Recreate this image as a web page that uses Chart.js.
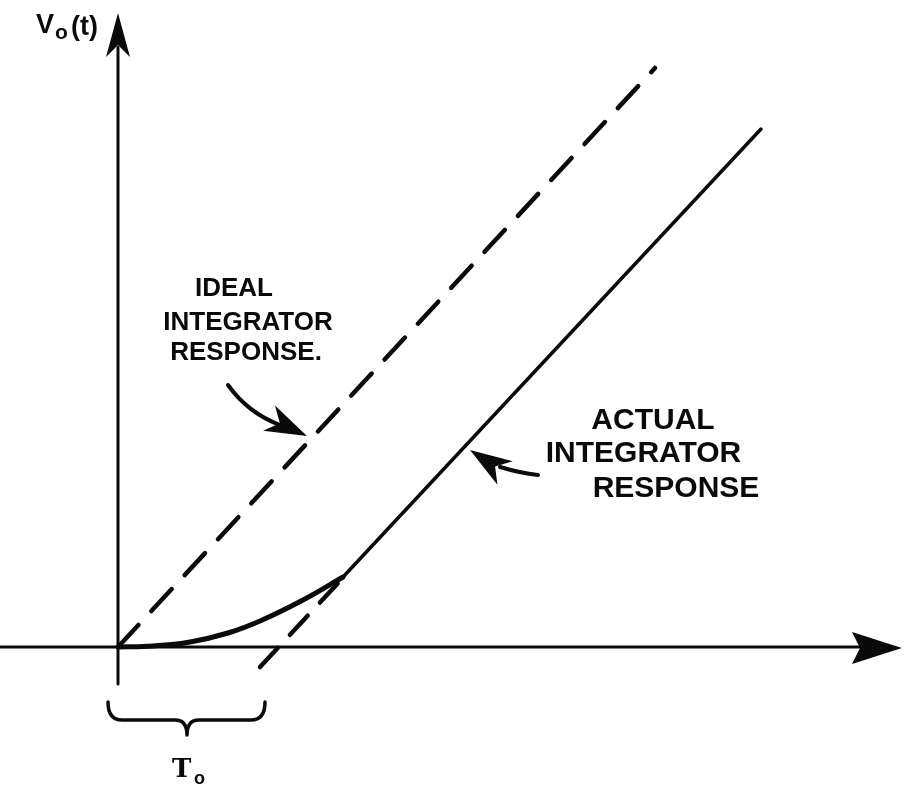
<!DOCTYPE html>
<html>
<head>
<meta charset="utf-8">
<script src="https://cdn.jsdelivr.net/npm/chart.js@4.4.1/dist/chart.umd.min.js"></script>
<style>
  body { margin: 0; background: #fff; }
  #wrap { width: 915px; height: 789px; }
</style>
</head>
<body>
<div id="wrap"><canvas id="myChart" width="915" height="789"></canvas></div>
<script>
// time axis runs roughly -1.2 .. 8, output axis -1.4 .. 6.5
var idealX = [0, 5.37];
var idealY = [0, 5.79];

// slow start of the real integrator
var curveX = [0, 0.35, 0.72, 1.1, 1.42, 1.85, 2.25];
var curveY = [0, 0.01, 0.05, 0.14, 0.26, 0.47, 0.70];

// steady-state ramp
var actualX = [2.25, 6.43];
var actualY = [0.70, 5.18];

// ramp extended back to the time axis (offset To)
var extendX = [1.42, 2.22];
var extendY = [-0.20, 0.66];

var timeAxisX = [-1.18, 7.6];
var outAxisY = [-0.37, 6.0];

var ink = '#0a0a0a';

function pts(xs, ys) {
  return xs.map(function(x, i) { return { x: x, y: ys[i] }; });
}

function barb(ctx, tx, ty, dx, dy, len, hw, notch) {
  var m = Math.sqrt(dx * dx + dy * dy);
  dx = dx / m; dy = dy / m;
  var px = -dy, py = dx;
  ctx.beginPath();
  ctx.moveTo(tx, ty);
  ctx.lineTo(tx - len * dx + hw * px, ty - len * dy + hw * py);
  ctx.lineTo(tx - notch * dx, ty - notch * dy);
  ctx.lineTo(tx - len * dx - hw * px, ty - len * dy - hw * py);
  ctx.closePath();
  ctx.fill();
}

var sketchPlugin = {
  id: 'sketch',
  afterDatasetsDraw: function(chart) {
    var ctx = chart.ctx;
    var sx = chart.scales.x, sy = chart.scales.y;
    var X = function(v) { return sx.getPixelForValue(v); };
    var Y = function(v) { return sy.getPixelForValue(v); };
    ctx.save();
    ctx.fillStyle = ink;
    ctx.strokeStyle = ink;
    ctx.lineCap = 'round';
    ctx.lineJoin = 'round';

    // axis arrow heads
    barb(ctx, X(0), Y(6.34), 0, -1, 44, 12, 32);
    barb(ctx, X(7.84), Y(-0.01), 1, 0, 50, 16, 42);

    // pointer to the ideal line
    ctx.lineWidth = 4;
    ctx.beginPath();
    ctx.moveTo(X(1.10), Y(2.62));
    ctx.quadraticCurveTo(X(1.30), Y(2.34), X(1.62), Y(2.22));
    ctx.stroke();
    barb(ctx, X(1.89), Y(2.11), 36, 17, 42, 14, 30);

    // pointer to the actual line
    ctx.beginPath();
    ctx.moveTo(X(4.20), Y(1.72));
    ctx.quadraticCurveTo(X(4.02), Y(1.74), X(3.82), Y(1.80));
    ctx.stroke();
    barb(ctx, X(3.52), Y(1.97), -32, -21, 42, 14, 30);

    // brace under the offset interval
    ctx.lineWidth = 3.5;
    var l = X(-0.10), r = X(1.47), c = X(0.69);
    var top = Y(-0.55), mid = Y(-0.73), tip = Y(-0.88);
    ctx.beginPath();
    ctx.moveTo(l, top);
    ctx.quadraticCurveTo(l, mid, l + 14, mid);
    ctx.lineTo(c - 12, mid);
    ctx.quadraticCurveTo(c, mid, c, tip);
    ctx.quadraticCurveTo(c, mid, c + 12, mid);
    ctx.lineTo(r - 14, mid);
    ctx.quadraticCurveTo(r, mid, r, top);
    ctx.stroke();

    // labels
    ctx.textAlign = 'center';
    ctx.textBaseline = 'middle';
    ctx.font = 'bold 26px "Liberation Sans", Arial, sans-serif';
    ctx.fillText('IDEAL', X(1.16), Y(3.585));
    ctx.fillText('INTEGRATOR', X(1.30), Y(3.245));
    ctx.fillText('RESPONSE.', X(1.28), Y(2.945));

    ctx.font = 'bold 30px "Liberation Sans", Arial, sans-serif';
    ctx.fillText('ACTUAL', X(5.35), Y(2.26));
    ctx.fillText('INTEGRATOR', X(5.255), Y(1.935));
    ctx.fillText('RESPONSE', X(5.58), Y(1.585));

    // axis names
    ctx.textAlign = 'left';
    ctx.textBaseline = 'alphabetic';
    ctx.font = 'bold 27px "Liberation Sans", Arial, sans-serif';
    ctx.fillText('V', X(-0.82), Y(6.14));
    ctx.font = 'bold 21px "Liberation Sans", Arial, sans-serif';
    ctx.fillText('o', X(-0.63), Y(6.08));
    ctx.font = 'bold 27px "Liberation Sans", Arial, sans-serif';
    ctx.fillText('(t)', X(-0.47), Y(6.12));

    ctx.font = 'bold 26px "DejaVu Serif", serif';
    ctx.fillText('T', X(0.54), Y(-1.30));
    ctx.font = 'bold 18px "Liberation Sans", Arial, sans-serif';
    ctx.fillText('o', X(0.76), Y(-1.37));
    ctx.restore();
  }
};

var ctx = document.getElementById('myChart').getContext('2d');
var myChart = new Chart(ctx, {
  type: 'scatter',
  data: {
    datasets: [
      { data: pts([0, 0], outAxisY), borderWidth: 3 },
      { data: pts(timeAxisX, [0, 0]), borderWidth: 3 },
      { data: pts(idealX, idealY), borderWidth: 4.5, borderDash: [30, 19] },
      { data: pts(curveX, curveY), borderWidth: 5, tension: 0.4 },
      { data: pts(actualX, actualY), borderWidth: 3.5 },
      { data: pts(extendX, extendY), borderWidth: 4.5, borderDash: [26, 18] }
    ].map(function(d) {
      d.showLine = true;
      d.borderColor = ink;
      d.borderCapStyle = 'round';
      d.pointRadius = 0;
      d.fill = false;
      return d;
    })
  },
  options: {
    responsive: false,
    animation: false,
    layout: { padding: 0 },
    plugins: { legend: { display: false }, tooltip: { enabled: false } },
    scales: {
      x: { type: 'linear', min: -1.18, max: 7.97, display: false },
      y: { type: 'linear', min: -1.42, max: 6.47, display: false }
    }
  },
  plugins: [sketchPlugin]
});
</script>
</body>
</html>
